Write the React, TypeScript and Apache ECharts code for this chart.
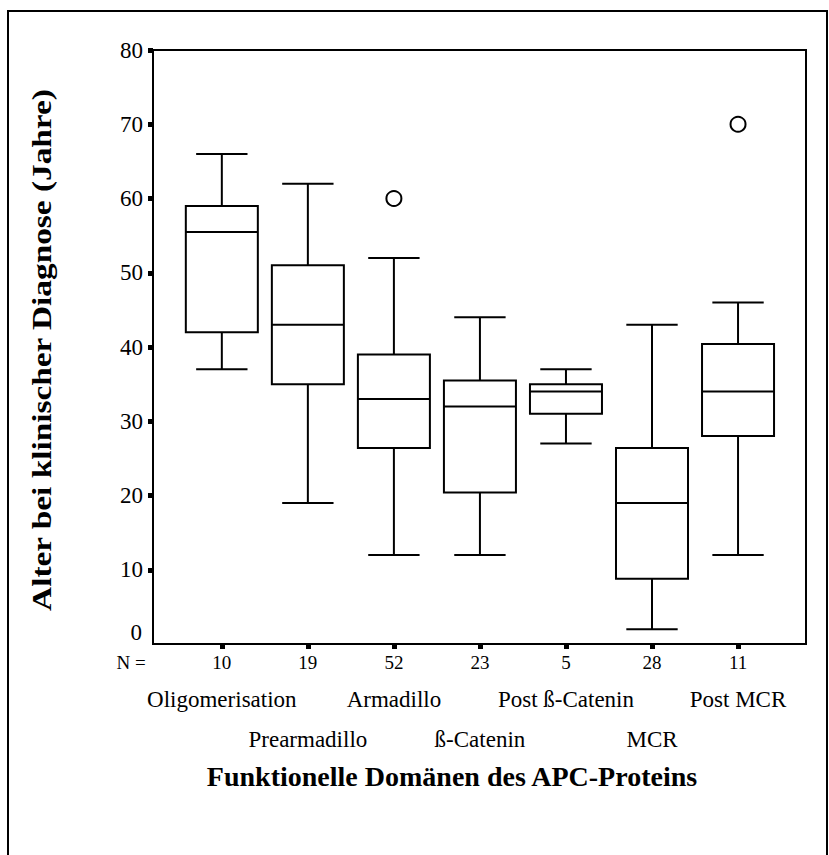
import React, { useEffect, useRef } from 'react';
import * as echarts from 'echarts';

const categories = ['Oligomerisation', 'Prearmadillo', 'Armadillo', 'ß-Catenin', 'Post ß-Catenin', 'MCR', 'Post MCR'];
const nCounts = [10, 19, 52, 23, 5, 28, 11];
const whiskerLow = [37, 19, 12, 12, 27, 2, 12];
const quartile1 = [42, 35, 26.4, 20.4, 31, 8.8, 28];
const medians = [55.5, 43, 33, 32, 34, 19, 34];
const quartile3 = [59, 51, 39, 35.5, 35, 26.4, 40.4];
const whiskerHigh = [66, 62, 52, 44, 37, 43, 46];
const outlierGroup = [3, 7];
const outlierAge = [60, 70];
const groupPositions = [1, 2, 3, 4, 5, 6, 7];
const rowOnePositions = [1, 3, 5, 7];
const rowTwoPositions = [2, 4, 6];

const FONT = "'Liberation Serif', 'Times New Roman', serif";

export default function App() {
  const ref = useRef<HTMLDivElement>(null);

  useEffect(() => {
    document.body.style.margin = '0';
    if (!ref.current) return;
    const chart = echarts.init(ref.current, undefined, { renderer: 'svg' });

    const boxData = groupPositions.map((p, i) => [p, whiskerLow[i], quartile1[i], medians[i], quartile3[i], whiskerHigh[i]]);
    const outlierData = outlierGroup.map((g, i) => [g, outlierAge[i]]);

    const xBase = { type: 'value', gridIndex: 0, min: 0.2, max: 7.79, position: 'bottom', splitLine: { show: false } };

    const option: any = {
      animation: false,
      backgroundColor: '#fff',
      grid: [{ left: 153, top: 50, right: 23, bottom: 211, show: true, borderColor: '#000', borderWidth: 2, backgroundColor: 'transparent' }],
      xAxis: [
        {
          ...xBase,
          axisLine: { show: true, lineStyle: { color: '#000', width: 2 } },
          axisTick: { show: true, customValues: groupPositions, length: 5, lineStyle: { color: '#000', width: 5 } },
          axisLabel: {
            customValues: groupPositions,
            formatter: (v: number) => String(nCounts[Math.round(v) - 1]),
            fontFamily: FONT, fontSize: 19, color: '#000', margin: 9,
          },
        },
        {
          ...xBase,
          axisLine: { show: false }, axisTick: { show: false },
          axisLabel: {
            customValues: rowOnePositions,
            formatter: (v: number) => categories[Math.round(v) - 1],
            fontFamily: FONT, fontSize: 23, color: '#000', margin: 44,
          },
        },
        {
          ...xBase,
          axisLine: { show: false }, axisTick: { show: false },
          axisLabel: {
            customValues: rowTwoPositions,
            formatter: (v: number) => categories[Math.round(v) - 1],
            fontFamily: FONT, fontSize: 23, color: '#000', margin: 84,
          },
        },
      ],
      yAxis: [{
        type: 'value', gridIndex: 0, min: 0, max: 80, interval: 10,
        splitLine: { show: false },
        axisLine: { show: true, lineStyle: { color: '#000', width: 2 } },
        axisTick: { show: true, length: 5, lineStyle: { color: '#000', width: 5 } },
        axisLabel: { fontFamily: FONT, fontSize: 23, color: '#000', margin: 10, showMinLabel: false },
      }],
      series: [
        {
          type: 'custom',
          xAxisIndex: 0, yAxisIndex: 0,
          data: boxData,
          encode: { x: 0, y: [1, 2, 3, 4, 5] },
          renderItem: (params: any, api: any) => {
            const x = api.value(0);
            const lo = api.coord([x, api.value(1)]);
            const b1 = api.coord([x, api.value(2)]);
            const md = api.coord([x, api.value(3)]);
            const b3 = api.coord([x, api.value(4)]);
            const hi = api.coord([x, api.value(5)]);
            const unit = api.size([1, 0])[0];
            const bw = unit * 0.837;
            const cw = unit * 0.597;
            const cx = lo[0];
            const ls = { stroke: '#000', lineWidth: 2 };
            return {
              type: 'group',
              children: [
                { type: 'line', shape: { x1: cx, y1: hi[1], x2: cx, y2: b3[1] }, style: ls },
                { type: 'line', shape: { x1: cx, y1: b1[1], x2: cx, y2: lo[1] }, style: ls },
                { type: 'line', shape: { x1: cx - cw / 2, y1: hi[1], x2: cx + cw / 2, y2: hi[1] }, style: ls },
                { type: 'line', shape: { x1: cx - cw / 2, y1: lo[1], x2: cx + cw / 2, y2: lo[1] }, style: ls },
                { type: 'rect', shape: { x: cx - bw / 2, y: b3[1], width: bw, height: b1[1] - b3[1] }, style: { fill: '#fff', stroke: '#000', lineWidth: 2 } },
                { type: 'line', shape: { x1: cx - bw / 2, y1: md[1], x2: cx + bw / 2, y2: md[1] }, style: ls },
              ],
            };
          },
        },
        {
          type: 'scatter',
          xAxisIndex: 0, yAxisIndex: 0,
          data: outlierData,
          symbol: 'circle',
          symbolSize: 15,
          itemStyle: { color: '#fff', borderColor: '#000', borderWidth: 2, opacity: 1 },
        },
      ],
      graphic: [
        { type: 'rect', shape: { x: 8, y: 11, width: 819, height: 900 }, style: { fill: 'none', stroke: '#000', lineWidth: 2 }, silent: true, z: -1 },
        { type: 'text', x: 142, y: 632, style: { text: '0', font: `23px ${FONT}`, fill: '#000', textAlign: 'right', textVerticalAlign: 'middle' } },
        { type: 'text', x: 131, y: 662, style: { text: 'N =', font: `19px ${FONT}`, fill: '#000', textAlign: 'center', textVerticalAlign: 'middle' } },
        { type: 'text', x: 452, y: 776, style: { text: 'Funktionelle Domänen des APC-Proteins', font: `bold 28px ${FONT}`, fill: '#000', textAlign: 'center', textVerticalAlign: 'middle' } },
        { type: 'text', x: 42, y: 350, rotation: Math.PI / 2, scaleX: 1.19, style: { text: 'Alter bei klinischer Diagnose (Jahre)', font: `bold 28px ${FONT}`, fill: '#000', textAlign: 'center', textVerticalAlign: 'middle' } },
      ],
    };

    chart.setOption(option);
    return () => chart.dispose();
  }, []);

  return <div ref={ref} style={{ width: 829, height: 855 }} />;
}
